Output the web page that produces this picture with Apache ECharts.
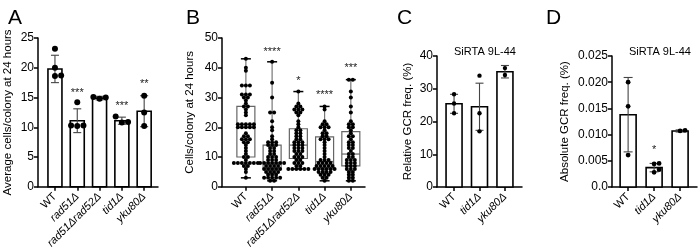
<!DOCTYPE html>
<html>
<head>
<meta charset="utf-8">
<script src="https://cdn.jsdelivr.net/npm/echarts@6/dist/echarts.min.js"></script>
<style>
html,body{margin:0;padding:0;background:#fff;}
#chart{width:700px;height:251px;}
</style>
</head>
<body>
<div id="chart"></div>
<script>
// ---- data ----
var catsA = ['WT', 'rad51Δ', 'rad51Δrad52Δ', 'tid1Δ', 'yku80Δ'];
var meanA = [19.8, 11.1, 14.9, 11.1, 12.7];
var sdA = [2.3, 2.0, 0.3, 0.6, 2.6];
var dotsA = [[23.2, 20.0, 18.7, 18.6], [14.2, 10.3, 10.2, 10.3], [15.0, 15.1, 14.8], [11.8, 10.8, 10.9], [15.3, 12.5, 10.2]];
var starsA = ['', '***', '', '***', '**'];
var starPosA = [0, 15.8, 0, 13.6, 17.3];

var catsB = catsA;
var dotsB = [
  [43, 40, 39, 34, 34, 34, 31, 31, 31, 30, 30, 29, 28, 27, 27, 26, 25, 24, 21, 21, 21, 21, 21, 20, 20, 20, 20, 20, 18, 17, 17, 16, 16, 16, 15, 15, 14, 13, 12, 11, 10, 10, 9, 8, 8, 8, 8, 8, 8, 8, 7, 7, 6, 5, 3],
  [42, 35, 30, 25, 25, 22, 20, 19, 17, 16, 15, 15, 15, 14, 14, 14, 13, 13, 12, 12, 11, 11, 10, 10, 10, 9, 9, 9, 8, 8, 8, 8, 8, 8, 8, 7, 7, 7, 7, 6, 6, 6, 6, 6, 5, 5, 5, 5, 4, 4, 4, 3, 3, 3, 3, 3, 2, 2],
  [32, 28, 27, 27, 26, 26, 26, 25, 25, 24, 22, 21, 20, 19, 19, 18, 18, 17, 17, 16, 16, 15, 15, 15, 14, 14, 14, 13, 13, 13, 12, 12, 12, 11, 11, 10, 10, 10, 9, 9, 8, 8, 8, 7, 7, 6, 6, 6, 6, 6, 6],
  [27, 26, 22, 21, 21, 20, 20, 20, 19, 18, 18, 17, 17, 16, 16, 16, 15, 14, 13, 12, 11, 10, 9, 9, 9, 8, 8, 8, 8, 7, 7, 7, 7, 7, 6, 6, 6, 6, 6, 6, 5, 5, 5, 5, 4, 4, 4, 3, 3, 2],
  [36, 36, 32, 30, 27, 25, 22, 21, 21, 20, 20, 19, 18, 17, 17, 16, 15, 15, 14, 14, 13, 13, 12, 11, 11, 10, 10, 9, 9, 9, 8, 8, 8, 7, 7, 7, 6, 6, 6, 5, 5, 4, 4, 3, 3, 2, 2]
];
var starsB = ['', '****', '*', '****', '***'];
var starPosB = [0, 45.3, 35.6, 30.9, 40];

var catsC = ['WT', 'tid1Δ', 'yku80Δ'];
var meanC = [25.4, 24.5, 35.2];
var sdC = [2.9, 7.2, 1.9];
var dotsC = [[28.3, 25.5, 22.5], [34.0, 22.5, 17.0], [36.3, 34.2]];

var catsD = catsC;
var meanD = [0.0138, 0.0037, 0.0107];
var sdD = [0.0071, 0.0008, 0.0002];
var dotsD = [[0.0200, 0.0154, 0.0061], [0.0045, 0.0044, 0.0033, 0.0028], [0.0107, 0.0108]];
var starsD = ['', '*', ''];
var starPosD = [0, 0.0071, 0];

var FONT = '"Liberation Sans", Arial, sans-serif';

// ---- helpers ----
function quant(s, p) {
  var h = (s.length - 1) * p, lo = Math.floor(h), hi = Math.ceil(h);
  return s[lo] + (s[hi] - s[lo]) * (h - lo);
}

function xAx(gi, cats, min, max) {
  var ticks = cats.map(function (c, i) { return i; });
  return {
    gridIndex: gi, type: 'value', min: min, max: max,
    axisLine: {onZero: false, lineStyle: {color: '#000', width: 1.5}},
    axisTick: {customValues: ticks, length: 4, lineStyle: {color: '#000', width: 1.5}},
    axisLabel: {
      customValues: ticks, rotate: 45, fontSize: 11, color: '#000', fontFamily: FONT, margin: 8,
      formatter: function (v) {
        var n = cats[Math.round(v)];
        return n === 'WT' ? n : '{i|' + n + '}';
      },
      rich: {i: {fontStyle: 'italic', fontSize: 11, fontFamily: FONT, color: '#000'}}
    },
    splitLine: {show: false}
  };
}

function yAx(gi, name, max, interval, gap, fmt) {
  return {
    gridIndex: gi, type: 'value', min: 0, max: max, interval: interval,
    name: name, nameLocation: 'middle', nameGap: gap,
    nameTextStyle: {fontSize: 11.5, fontFamily: FONT, color: '#000'},
    axisLine: {show: true, onZero: false, lineStyle: {color: '#000', width: 1.5}},
    axisTick: {show: true, length: 4, lineStyle: {color: '#000', width: 1.5}},
    axisLabel: {fontSize: 12, color: '#000', fontFamily: FONT, margin: 4, formatter: fmt},
    splitLine: {show: false}
  };
}

function barSeries(gi, means, w) {
  return {
    type: 'custom', xAxisIndex: gi, yAxisIndex: gi, z: 2,
    data: means.map(function (m, i) { return [i, m]; }),
    renderItem: function (params, api) {
      var top = api.coord([api.value(0), api.value(1)]);
      var base = api.coord([api.value(0), 0]);
      return {type: 'rect', shape: {x: top[0] - w / 2, y: top[1], width: w, height: base[1] - top[1]},
        style: {fill: '#fff', stroke: '#000', lineWidth: 1.6}};
    }
  };
}

function errSeries(gi, means, sds, cap) {
  return {
    type: 'custom', xAxisIndex: gi, yAxisIndex: gi, z: 3,
    data: means.map(function (m, i) { return [i, m - sds[i], m + sds[i]]; }),
    renderItem: function (params, api) {
      var lo = api.coord([api.value(0), api.value(1)]);
      var hi = api.coord([api.value(0), api.value(2)]);
      var st = {stroke: '#444', lineWidth: 1.1};
      return {type: 'group', children: [
        {type: 'line', shape: {x1: lo[0], y1: lo[1], x2: hi[0], y2: hi[1]}, style: st},
        {type: 'line', shape: {x1: lo[0] - cap / 2, y1: lo[1], x2: lo[0] + cap / 2, y2: lo[1]}, style: st},
        {type: 'line', shape: {x1: hi[0] - cap / 2, y1: hi[1], x2: hi[0] + cap / 2, y2: hi[1]}, style: st}
      ]};
    }
  };
}

// swarm layout in pixel space (for small groups)
function swarm(ys, gap) {
  var order = ys.map(function (y, k) { return k; }).sort(function (a, b) { return ys[b] - ys[a]; });
  var placed = [], offs = [];
  order.forEach(function (k) {
    for (var s = 0; s < 60; s++) {
      var dx = s === 0 ? 0 : (s % 2 ? 1 : -1) * Math.ceil(s / 2) * gap;
      var ok = placed.every(function (p) {
        return (p[0] - dx) * (p[0] - dx) + (p[1] - ys[k]) * (p[1] - ys[k]) >= gap * gap * 0.95;
      });
      if (ok) { placed.push([dx, ys[k]]); offs[k] = dx; break; }
    }
  });
  return offs;
}

// centered rows of equal values (dot plot)
function rows(vals, gap) {
  var cnt = {}, seen = {};
  vals.forEach(function (v) { cnt[v] = (cnt[v] || 0) + 1; });
  return vals.map(function (v) {
    var j = seen[v] || 0; seen[v] = j + 1;
    return (j - (cnt[v] - 1) / 2) * gap;
  });
}

function dotSeries(gi, dots, r, gap, layout) {
  return {
    type: 'custom', xAxisIndex: gi, yAxisIndex: gi, z: 5,
    data: dots.map(function (d, i) { return [i, d[0]]; }),
    renderItem: function (params, api) {
      var i = api.value(0), vals = dots[params.dataIndex];
      var pts = vals.map(function (v) { return api.coord([i, v]); });
      var offs = layout === 'rows' ? rows(vals, gap) : swarm(pts.map(function (p) { return p[1]; }), gap);
      return {type: 'group', children: pts.map(function (p, k) {
        return {type: 'circle', shape: {cx: p[0] + offs[k], cy: p[1], r: r}, style: {fill: '#000'}};
      })};
    }
  };
}

function starSeries(gi, stars, pos) {
  return {
    type: 'custom', xAxisIndex: gi, yAxisIndex: gi, z: 6,
    data: pos.map(function (p, i) { return [i, p]; }),
    renderItem: function (params, api) {
      var t = stars[params.dataIndex];
      if (!t) return null;
      var p = api.coord([api.value(0), api.value(1)]);
      return {type: 'text', x: p[0], y: p[1], style: {text: t, fill: '#222', font: '11px ' + FONT,
        align: 'center', verticalAlign: 'middle', textAlign: 'center', textVerticalAlign: 'middle'}};
    }
  };
}

function boxSeries(gi, dots, w, cap) {
  var stats = dots.map(function (d, i) {
    var s = d.slice().sort(function (a, b) { return a - b; });
    return [i, s[0], quant(s, 0.25), quant(s, 0.5), quant(s, 0.75), s[s.length - 1]];
  });
  return {
    type: 'custom', xAxisIndex: gi, yAxisIndex: gi, z: 2,
    data: stats,
    renderItem: function (params, api) {
      var i = api.value(0);
      var pMin = api.coord([i, api.value(1)]), pQ1 = api.coord([i, api.value(2)]);
      var pMed = api.coord([i, api.value(3)]), pQ3 = api.coord([i, api.value(4)]);
      var pMax = api.coord([i, api.value(5)]);
      var x = pMin[0];
      return {type: 'group', children: [
        {type: 'line', shape: {x1: x, y1: pMin[1], x2: x, y2: pMax[1]}, style: {stroke: '#777', lineWidth: 1.2}},
        {type: 'line', shape: {x1: x - cap / 2, y1: pMin[1], x2: x + cap / 2, y2: pMin[1]}, style: {stroke: '#000', lineWidth: 1.5}},
        {type: 'line', shape: {x1: x - cap / 2, y1: pMax[1], x2: x + cap / 2, y2: pMax[1]}, style: {stroke: '#000', lineWidth: 1.5}},
        {type: 'rect', shape: {x: x - w / 2, y: pQ3[1], width: w, height: pQ1[1] - pQ3[1]}, style: {fill: '#fff', stroke: '#666', lineWidth: 1.2}},
        {type: 'line', shape: {x1: x - w / 2, y1: pMed[1], x2: x + w / 2, y2: pMed[1]}, style: {stroke: '#666', lineWidth: 1.2}}
      ]};
    }
  };
}

var intFmt = function (v) { return String(v); };
var fracFmt = function (v) { return v === 0 ? '0.0' : v.toFixed(3); };

var chart = echarts.init(document.getElementById('chart'));
chart.setOption({
  animation: false,
  backgroundColor: '#fff',
  title: [
    {text: 'A', left: 3, top: 3, textStyle: {fontSize: 21, fontWeight: 'normal', fontFamily: FONT, color: '#000'}},
    {text: 'B', left: 181, top: 3, textStyle: {fontSize: 21, fontWeight: 'normal', fontFamily: FONT, color: '#000'}},
    {text: 'C', left: 392, top: 3, textStyle: {fontSize: 21, fontWeight: 'normal', fontFamily: FONT, color: '#000'}},
    {text: 'D', left: 541, top: 3, textStyle: {fontSize: 21, fontWeight: 'normal', fontFamily: FONT, color: '#000'}},
    {text: 'SiRTA 9L-44', left: 480, top: 41, textAlign: 'center', textStyle: {fontSize: 11, fontWeight: 'normal', fontFamily: FONT, color: '#000'}},
    {text: 'SiRTA 9L-44', left: 655, top: 41, textAlign: 'center', textStyle: {fontSize: 11, fontWeight: 'normal', fontFamily: FONT, color: '#000'}}
  ],
  grid: [
    {left: 38, top: 38, width: 120, height: 150},
    {left: 222, top: 38, width: 143, height: 149},
    {left: 437, top: 56, width: 85, height: 131},
    {left: 612, top: 56, width: 85, height: 131}
  ],
  xAxis: [
    xAx(0, catsA, -0.76, 4.62),
    xAx(1, catsB, -0.91, 4.54),
    xAx(2, catsC, -0.67, 2.67),
    xAx(3, catsD, -0.62, 2.65)
  ],
  yAxis: [
    yAx(0, 'Average cells/colony at 24 hours', 25, 5, 24, intFmt),
    yAx(1, 'Cells/colony at 24 hours', 50, 10, 26, intFmt),
    yAx(2, 'Relative GCR freq. (%)', 40, 10, 23, intFmt),
    yAx(3, 'Absolute GCR freq. (%)', 0.025, 0.005, 41, fracFmt)
  ],
  series: [
    barSeries(0, meanA, 14),
    errSeries(0, meanA, sdA, 8),
    dotSeries(0, dotsA, 3, 6.2, 'swarm'),
    starSeries(0, starsA, starPosA),

    boxSeries(1, dotsB, 18, 10),
    dotSeries(1, dotsB, 2, 4, 'rows'),
    starSeries(1, starsB, starPosB),

    barSeries(2, meanC, 16),
    errSeries(2, meanC, sdC, 8),
    dotSeries(2, dotsC, 2.2, 4.6, 'swarm'),

    barSeries(3, meanD, 16),
    errSeries(3, meanD, sdD, 9),
    dotSeries(3, dotsD, 2.4, 5, 'swarm'),
    starSeries(3, starsD, starPosD)
  ]
});
</script>
</body>
</html>
